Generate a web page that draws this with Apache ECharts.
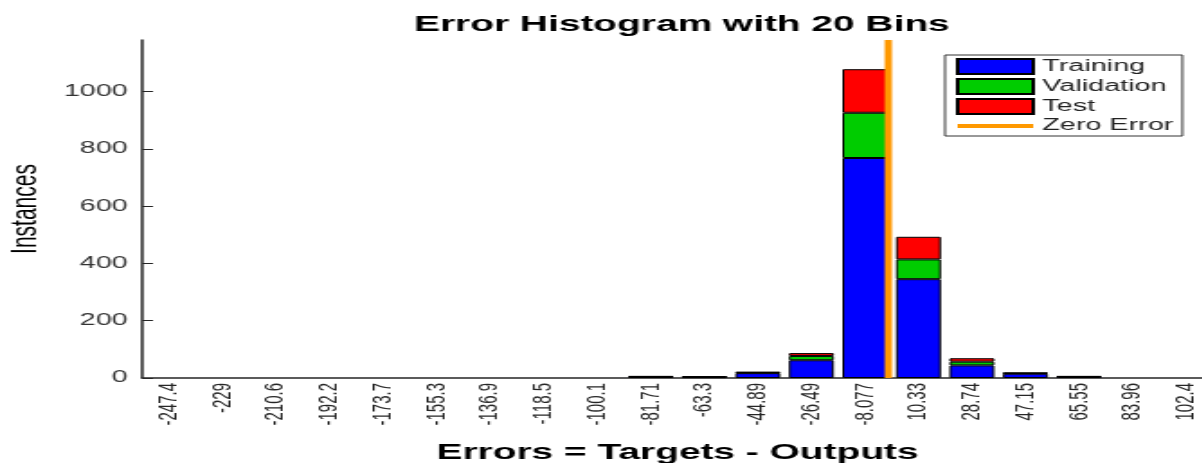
<!DOCTYPE html>
<html>
<head>
<meta charset="utf-8" />
<title>Error Histogram</title>
<style>
    html, body { margin: 0; padding: 0; overflow: hidden; background: #fff; }
    /* the reference is stretched sideways, so the chart is drawn narrow and scaled */
    #main { width: 668px; height: 463px; transform: scaleX(1.8); transform-origin: 0 0; }
</style>
</head>
<body>
<div id="main"></div>
<script src="https://cdn.jsdelivr.net/npm/echarts@6/dist/echarts.min.js"></script>
<script>
    // bin centres (tick labels)
    var bins = ['-247.4', '-229', '-210.6', '-192.2', '-173.7', '-155.3', '-136.9', '-118.5', '-100.1',
        '-81.71', '-63.3', '-44.89', '-26.49', '-8.077', '10.33', '28.74', '47.15', '65.55', '83.96', '102.4'];
    var training   = [0, 0, 0, 0, 0, 0, 0, 0, 0, 4, 3, 17, 62, 768, 345, 44, 15, 5, 0, 0];
    var validation = [0, 0, 0, 0, 0, 0, 0, 0, 0, 1, 1, 2, 15, 158, 69, 13, 2, 1, 0, 0];
    var test       = [0, 0, 0, 0, 0, 0, 0, 0, 0, 1, 1, 2, 10, 152, 79, 12, 1, 0, 0, 0];
    // outer bin edges and the zero error position
    var edgeMin = -256.6;
    var edgeMax = 111.6;
    var zeroError = 0;
    var yMax = 1180;

    var font = 'Liberation Sans, Arial, sans-serif';
    var myChart = echarts.init(document.getElementById('main'));

    function barSeries(name, data, color) {
        return {
            name: name,
            type: 'bar',
            stack: 'all',
            barWidth: '84%',
            // empty bins draw nothing
            data: data.map(function (v) { return v === 0 ? '-' : v; }),
            itemStyle: { color: color, borderColor: '#000', borderWidth: 1 }
        };
    }

    var option = {
        animation: false,
        title: {
            text: 'Error Histogram with 20 Bins',
            left: 225,
            top: 9,
            textStyle: { fontFamily: font, fontSize: 21.6, fontWeight: 'bold', color: '#000' }
        },
        legend: {
            orient: 'vertical',
            left: 525,
            top: 55,
            padding: [3, 5, 2, 5],
            borderColor: '#333',
            borderWidth: 1,
            itemWidth: 42,
            itemHeight: 15,
            itemGap: 3,
            textStyle: { fontFamily: font, fontSize: 16, lineHeight: 15, color: '#222' },
            data: [
                { name: 'Training', icon: 'rect' },
                { name: 'Validation', icon: 'rect' },
                { name: 'Test', icon: 'rect' },
                { name: 'Zero Error', itemStyle: { opacity: 0 }, lineStyle: { width: 4 } }
            ]
        },
        grid: { left: 79, top: 40, width: 594.8, bottom: 85, outerBoundsMode: 'none' },
        xAxis: [
            {
                type: 'category',
                data: bins,
                name: 'Errors = Targets - Outputs',
                nameLocation: 'middle',
                nameGap: 64,
                nameTextStyle: { fontFamily: font, fontSize: 21.6, fontWeight: 'bold', color: '#000' },
                axisLine: { lineStyle: { color: '#262626', width: 1.5 } },
                axisTick: { alignWithLabel: true, inside: true, length: 5, lineStyle: { color: '#262626' } },
                axisLabel: { rotate: 90, interval: 0, margin: 5, fontFamily: font, fontSize: 15, color: '#262626' }
            },
            {
                type: 'value',
                min: edgeMin,
                max: edgeMax,
                show: false
            }
        ],
        yAxis: {
            type: 'value',
            min: 0,
            max: yMax,
            interval: 200,
            name: 'Instances',
            nameLocation: 'middle',
            nameGap: 53,
            nameTextStyle: { fontFamily: font, fontSize: 21, color: '#000' },
            axisLine: { show: true, onZero: false, lineStyle: { color: '#262626', width: 1.5 } },
            axisTick: { show: true, inside: true, length: 6, lineStyle: { color: '#262626' } },
            axisLabel: {
                showMaxLabel: false, margin: 8, fontFamily: font, fontSize: 16, color: '#333',
                formatter: function (v) { return String(v); }
            },
            splitLine: { show: false }
        },
        series: [
            barSeries('Training', training, '#0000ff'),
            barSeries('Validation', validation, '#00cc00'),
            barSeries('Test', test, '#ff0000'),
            {
                name: 'Zero Error',
                type: 'line',
                xAxisIndex: 1,
                symbol: 'none',
                z: 5,
                lineStyle: { color: '#ff9900', width: 4 },
                itemStyle: { color: '#ff9900' },
                data: [[zeroError, 0], [zeroError, yMax]]
            }
        ]
    };
    myChart.setOption(option);
</script>
</body>
</html>
